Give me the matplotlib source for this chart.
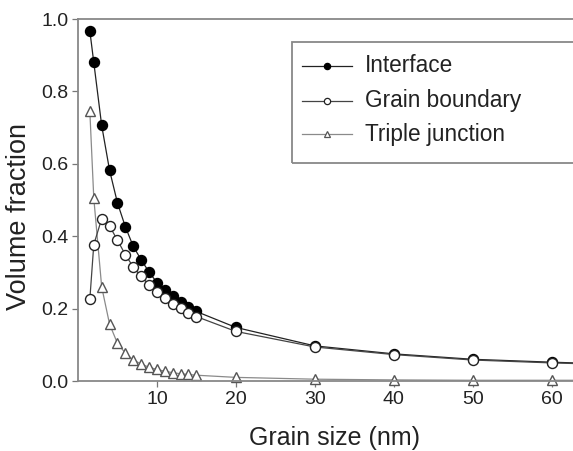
import matplotlib
matplotlib.use("Agg")
import matplotlib.pyplot as plt
from matplotlib.patches import Rectangle
from matplotlib.lines import Line2D

plt.rcParams['font.family'] = ['Liberation Sans', 'DejaVu Sans']

# Grain size (nm)
grain_size = [1.5, 2, 3, 4, 5, 6, 7, 8, 9, 10, 11, 12, 13, 14, 15, 20, 30, 40, 50, 60, 70]

# Volume fractions
interface = [0.967, 0.880, 0.706, 0.582, 0.492, 0.426, 0.372, 0.335, 0.301, 0.272,
             0.252, 0.234, 0.217, 0.204, 0.192, 0.148, 0.097, 0.075, 0.060, 0.052, 0.045]
grain_boundary = [0.226, 0.377, 0.448, 0.428, 0.389, 0.349, 0.315, 0.289, 0.266, 0.247,
                  0.229, 0.213, 0.201, 0.189, 0.178, 0.137, 0.094, 0.073, 0.058, 0.050, 0.044]
triple_junction = [0.745, 0.505, 0.260, 0.157, 0.104, 0.077, 0.058, 0.047, 0.038, 0.032,
                   0.027, 0.023, 0.020, 0.018, 0.016, 0.010, 0.005, 0.003, 0.002, 0.002, 0.002]

labels = ["Interface", "Grain boundary", "Triple junction"]
x_ticks = [10, 20, 30, 40, 50, 60]
y_ticks = [0.0, 0.2, 0.4, 0.6, 0.8, 1.0]

W, H = 573, 451
fig = plt.figure(figsize=(W / 100, H / 100), dpi=100)
ax = fig.add_axes([78 / W, 1 - 381 / H, (591 - 78) / W, (381 - 19) / H])

line_kw = dict(lw=0.9, markersize=7.2, markeredgewidth=1.0)
ax.plot(grain_size, triple_junction, color='#8a8a8a', marker='^', markerfacecolor='white',
        markeredgecolor='#555555', zorder=2, clip_on=False, **line_kw)
ax.plot(grain_size, grain_boundary, color='#444444', marker='o', markerfacecolor='white',
        markeredgecolor='#222222', zorder=3, **line_kw)
ax.plot(grain_size, interface, color='#222222', marker='o', markerfacecolor='black',
        markeredgecolor='black', zorder=2.5, **line_kw)

ax.set_xlim(0, 65)
ax.set_ylim(0, 1.0)
ax.set_xticks(x_ticks)
ax.set_yticks(y_ticks)
ax.set_yticklabels([f"{v:.1f}" for v in y_ticks])
ax.tick_params(direction='out', length=4, width=0.9, color='#777777',
               labelsize=14, labelcolor='#222222', pad=3)
for s in ax.spines.values():
    s.set_color('#888888')
    s.set_linewidth(1.3)

ax.set_xlabel("Grain size (nm)", fontsize=18, color='#222222', labelpad=13)
ax.set_ylabel("Volume fraction", fontsize=19.5, color='#222222', va='center')
ax.yaxis.set_label_coords((19 - 78) / 513, (381 - 217) / 362)

# Legend drawn in figure pixel space
def fx(px):
    return px / W

def fy(py):
    return 1 - py / H

fig.patches.append(Rectangle((fx(292), fy(163)), fx(300), fy(42) - fy(163),
                             transform=fig.transFigure, fill=False,
                             edgecolor='#888888', linewidth=1.3, zorder=5))
styles = [
    dict(color='#222222', marker='o', mfc='black', mec='black'),
    dict(color='#444444', marker='o', mfc='white', mec='#222222'),
    dict(color='#8a8a8a', marker='^', mfc='white', mec='#555555'),
]
rows = [66, 101, 134]
for lab, st, py in zip(labels, styles, rows):
    fig.lines.append(Line2D([fx(302), fx(352)], [fy(py), fy(py)], transform=fig.transFigure,
                            color=st['color'], lw=0.9, zorder=6))
    fig.lines.append(Line2D([fx(327)], [fy(py)], transform=fig.transFigure,
                            marker=st['marker'], markersize=4.5, markerfacecolor=st['mfc'],
                            markeredgecolor=st['mec'], markeredgewidth=0.9, ls='none', zorder=7))
    fig.text(fx(365), fy(py), lab, fontsize=16.3, color='#222222', va='center', ha='left')

fig.savefig("out.png", dpi=100)
